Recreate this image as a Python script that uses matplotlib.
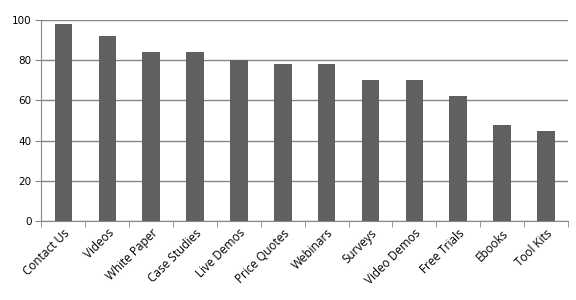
import numpy as np
import matplotlib.pyplot as plt

# Chart data
categories = ['Contact Us', 'Videos', 'White Paper', 'Case Studies', 'Live Demos',
              'Price Quotes', 'Webinars', 'Surveys', 'Video Demos', 'Free Trials',
              'Ebooks', 'Tool Kits']
values = [98, 92, 84, 84, 80, 78, 78, 70, 70, 62, 48, 45]
yticks = [0, 20, 40, 60, 80, 100]

fig = plt.figure(figsize=(5.76, 3.0), dpi=100)
ax = fig.add_axes([0.072, 0.263, 0.914, 0.67])

x = np.arange(len(categories))
ax.bar(x, values, width=0.4, color='#606060', zorder=3)

# Grid and axes
ax.set_ylim(0, 100)
ax.set_xlim(-0.5, len(categories) - 0.5)
ax.set_yticks(yticks)
ax.yaxis.grid(True, color='#868686', linewidth=1.0, zorder=0)
for s in ['top', 'right']:
    ax.spines[s].set_visible(False)
for s in ['left', 'bottom']:
    ax.spines[s].set_color('#868686')
ax.tick_params(axis='y', length=4, color='#868686', labelsize=7.5, pad=3)

# Category ticks sit between the bars
ax.set_xticks(x)
ax.set_xticks(np.arange(-0.5, len(categories), 1.0), minor=True)
ax.tick_params(axis='x', which='major', length=0, pad=4)
ax.tick_params(axis='x', which='minor', length=4, color='#868686')
ax.set_xticklabels(categories, rotation=45, ha='right', rotation_mode='anchor',
                   fontsize=8.5, family='Open Sans')

fig.savefig('out.png', dpi=100)
